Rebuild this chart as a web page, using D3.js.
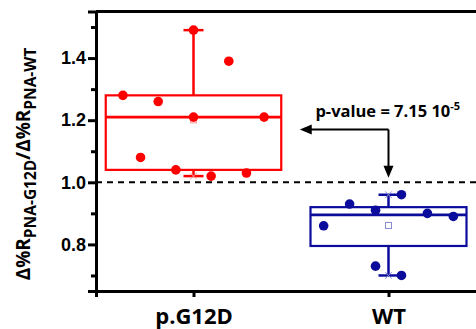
<!DOCTYPE html>
<html>
<head>
<meta charset="utf-8">
<script src="https://cdn.jsdelivr.net/npm/d3@7"></script>
<style>
  body { margin: 0; background: #fff; }
  svg { display: block; }
  .tick text { font-family: "Liberation Sans", Arial, sans-serif; font-weight: bold; }
</style>
</head>
<body>
<div id="chart"></div>
<script>
// categories + read values
var categories = ["p.G12D", "WT"];
var yTicks = [0.8, 1.0, 1.2, 1.4];
var yMinorTicks = [0.7, 0.9, 1.1, 1.3, 1.5];

// jitter slot of each point (column inside the box) and its value
var g12dSlots  = [-4, -3, -2, -1, 0, 0, 1, 2, 3, 4];
var g12dValues = [1.28, 1.08, 1.26, 1.04, 1.21, 1.49, 1.02, 1.39, 1.03, 1.21];
var wtSlots  = [-2.5, -1.5, -0.5, -0.5, 0.5, 0.5, 1.5, 2.5];
var wtValues = [0.86, 0.93, 0.91, 0.73, 0.96, 0.70, 0.90, 0.89];

// box statistics per category
var boxLow      = [1.04, 0.795];
var boxHigh     = [1.28, 0.92];
var medians     = [1.21, 0.895];
var whiskerLow  = [1.02, 0.70];
var whiskerHigh = [1.49, 0.96];
var means       = [1.201, 0.861];

var pValueText = "p-value = 7.15 10";
var pValueExp = "-5";

var width = 476, height = 329;
var colors = ["#ff0000", "#0c0c9c"];
var lightColors = ["#ff9a9a", "#8a8ad0"];
var boxHalf = [0.45, 0.40];   // box half width in category units
var slotStep = [0.0905, 0.133];

var svg = d3.select("#chart").append("svg")
  .attr("width", width)
  .attr("height", height);

var x = d3.scaleLinear().domain([0.5, 2.5]).range([96, 486]);
var y = d3.scaleLinear().domain([0.65, 1.55]).range([291, 11.5]);

// frame top line
svg.append("line")
  .attr("x1", x(0.5)).attr("x2", width)
  .attr("y1", y(1.55)).attr("y2", y(1.55))
  .attr("stroke", "#000").attr("stroke-width", 3);

// reference line at 1.0
svg.append("line")
  .attr("x1", x(0.5)).attr("x2", width)
  .attr("y1", y(1.0)).attr("y2", y(1.0))
  .attr("stroke", "#000").attr("stroke-width", 2)
  .attr("stroke-dasharray", "6,5");

// boxes
var groups = [
  { slots: g12dSlots, values: g12dValues },
  { slots: wtSlots, values: wtValues }
];

groups.forEach(function(g, i) {
  var cx = i + 1;
  var c = colors[i];
  var box = svg.append("g");

  // whiskers
  box.append("line")
    .attr("x1", x(cx)).attr("x2", x(cx))
    .attr("y1", y(boxHigh[i])).attr("y2", y(whiskerHigh[i]))
    .attr("stroke", c).attr("stroke-width", 2.5);
  box.append("line")
    .attr("x1", x(cx)).attr("x2", x(cx))
    .attr("y1", y(boxLow[i])).attr("y2", y(whiskerLow[i]))
    .attr("stroke", c).attr("stroke-width", 2.5);
  [whiskerLow[i], whiskerHigh[i]].forEach(function(v) {
    box.append("line")
      .attr("x1", x(cx) - 10).attr("x2", x(cx) + 10)
      .attr("y1", y(v)).attr("y2", y(v))
      .attr("stroke", c).attr("stroke-width", 2.5);
    // min / max markers
    box.append("path")
      .attr("d", d3.symbol(d3.symbolX, 30)())
      .attr("transform", "translate(" + x(cx) + "," + y(v) + ")")
      .attr("stroke", lightColors[i]).attr("stroke-width", 1);
  });

  box.append("rect")
    .attr("x", x(cx - boxHalf[i]))
    .attr("width", x(cx + boxHalf[i]) - x(cx - boxHalf[i]))
    .attr("y", y(boxHigh[i]))
    .attr("height", y(boxLow[i]) - y(boxHigh[i]))
    .attr("fill", "none").attr("stroke", c).attr("stroke-width", 2.2);

  box.append("line")
    .attr("x1", x(cx - boxHalf[i])).attr("x2", x(cx + boxHalf[i]))
    .attr("y1", y(medians[i])).attr("y2", y(medians[i]))
    .attr("stroke", c).attr("stroke-width", 2.8);

  // mean square
  box.append("rect")
    .attr("x", x(cx) - 3).attr("y", y(means[i]) - 3)
    .attr("width", 6).attr("height", 6)
    .attr("fill", "none").attr("stroke", lightColors[i]).attr("stroke-width", 1);

  // points
  box.selectAll("circle")
    .data(g.values)
    .enter()
    .append("circle")
      .attr("cx", function(d, j) { return x(cx + g.slots[j] * slotStep[i]); })
      .attr("cy", function(d) { return y(d); })
      .attr("r", 4.8)
      .attr("fill", c);
});

// axes
var yAxis = svg.append("g")
  .attr("transform", "translate(" + x(0.5) + ",0)")
  .call(d3.axisLeft(y).tickValues(yTicks).tickFormat(d3.format(".1f")).tickSize(8).tickPadding(2));
yAxis.selectAll("text").attr("font-size", 18).attr("fill", "#000");

var yMinor = svg.append("g")
  .attr("transform", "translate(" + x(0.5) + ",0)")
  .call(d3.axisLeft(y).tickValues(yMinorTicks).tickFormat("").tickSize(5));
yMinor.select(".domain").remove();

var xAxis = svg.append("g")
  .attr("transform", "translate(0," + y(0.65) + ")")
  .call(d3.axisBottom(x).tickValues([1, 2]).tickFormat(function(d) { return categories[d - 1]; }).tickSize(6).tickPadding(11));
xAxis.selectAll("text")
  .attr("font-size", 22)
  .attr("fill", "#000")
  .style("font-family", "'Open Sans', 'Lato', sans-serif")
  .style("font-weight", "bold");

[yAxis, yMinor, xAxis].forEach(function(a) {
  a.selectAll(".domain").attr("stroke", "#000").attr("stroke-width", 3);
  a.selectAll(".tick line").attr("stroke", "#000").attr("stroke-width", 3);
});

// y title
var title = svg.append("text")
  .attr("transform", "translate(30," + 164 + ") rotate(-90)")
  .attr("text-anchor", "middle")
  .attr("font-family", "'Open Sans', 'Lato', sans-serif")
  .attr("font-weight", "bold")
  .attr("font-size", 19)
  .attr("fill", "#000");
title.append("tspan").text("\u0394%R");
title.append("tspan").attr("dy", 6).attr("font-size", 15.5).text("PNA-G12D");
title.append("tspan").attr("dy", -6).text("/\u0394%R");
title.append("tspan").attr("dy", 6).attr("font-size", 15.5).text("PNA-WT");

// p-value annotation
var ann = svg.append("g");
var yAnn = 1.17;
ann.append("line")
  .attr("x1", x(2)).attr("x2", x(1.545) + 10)
  .attr("y1", y(yAnn)).attr("y2", y(yAnn))
  .attr("stroke", "#000").attr("stroke-width", 2);
ann.append("line")
  .attr("x1", x(2)).attr("x2", x(2))
  .attr("y1", y(yAnn)).attr("y2", y(1.015) - 10)
  .attr("stroke", "#000").attr("stroke-width", 2);
ann.append("path")
  .attr("d", "M0,0 L12,-5 L12,5 Z")
  .attr("transform", "translate(" + x(1.545) + "," + y(yAnn) + ")")
  .attr("fill", "#000");
ann.append("path")
  .attr("d", "M0,0 L-5,-12 L5,-12 Z")
  .attr("transform", "translate(" + x(2) + "," + y(1.015) + ")")
  .attr("fill", "#000");
var pt = ann.append("text")
  .attr("x", x(1.625)).attr("y", y(1.21))
  .attr("font-family", "'Open Sans', 'Lato', sans-serif")
  .attr("font-weight", "bold")
  .attr("font-size", 16.5)
  .attr("fill", "#000");
pt.append("tspan").text(pValueText);
pt.append("tspan").attr("dy", -7).attr("font-size", 11).text(pValueExp);
</script>
</body>
</html>
